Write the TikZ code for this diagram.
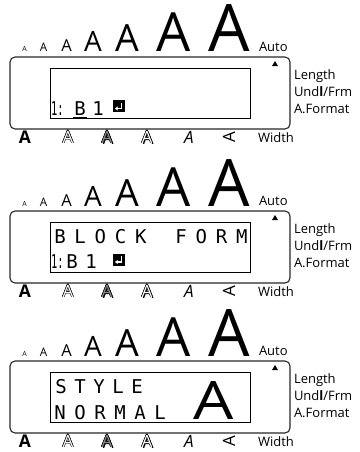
\documentclass[tikz,border=0pt]{standalone}
\usepackage{fontspec}
\setmainfont{Open Sans}
\newfontfamily\lcdfont{DejaVu Sans Mono}
\usepackage{contour}
\usetikzlibrary{arrows.meta,calc}
\contourlength{0.45pt}
\contournumber{8}

\begin{document}
\begin{tikzpicture}[x=1pt,y=-1pt, every node/.style={inner sep=0pt,outer sep=0pt}, sizeA/.style={anchor=base,font=\fontsize{#1}{#1}\selectfont}, lbl/.style={anchor=base west,font=\fontsize{13}{13}\selectfont}, sym/.style={anchor=base,font=\fontsize{17}{17}\selectfont}, lcd/.style={anchor=base,font=\lcdfont\fontsize{19}{19}\selectfont}, frame/.style={draw=black!85,line width=1.1pt,rounded corners=5pt}, screen/.style={draw=black,line width=0.8pt}, retkey/.style={fill=black,minimum size=12pt}, retarr/.style={draw=white,line width=1.3pt,-{Triangle[length=2.6pt,width=4pt]}}]
\useasboundingbox (0,0) rectangle (359,452);
\foreach \k/\dy in {1/0,2/154,3/304}{
  \foreach \i/\x/\s in {1/24.5/7,2/43.5/11.7,3/66.5/16.5,4/93/28,5/127/37.5,6/174/54,7/229/65.5}
    \node[sizeA=\s] (a\k-\i) at ({\x},{\dy+52}) {A};
  \node[lbl] (auto\k) at (259,{\dy+51.5}) {Auto};
  \draw[frame] (10,{\dy+57}) rectangle (290,{\dy+129});
  \fill (272,{\dy+66}) -- (278,{\dy+66}) -- (275,{\dy+61}) -- cycle;
  \draw[screen] (50,{\dy+68}) rectangle (250,{\dy+118});
  \node[lbl] (len\k) at (294,{\dy+79}) {Length};
  \node[lbl] (und\k) at (294,{\dy+96}) {Und{\bfseries l}/Frm};
  \node[lbl] (fmt\k) at (294,{\dy+113}) {A.Format};
  \node[sym,font=\fontsize{17.5}{17.5}\selectfont\bfseries] (b\k-1) at (25,{\dy+143}) {A};
  \node[sym] (b\k-2) at (68,{\dy+143}) {\contour{black}{\textcolor{white}{A}}};
  \node[sym] (b\k-3s) at (108.2,{\dy+144.2}) {A};
  \node[sym] (b\k-3) at (107,{\dy+143}) {\contour{black}{\textcolor{black!45}{A}}};
  \node[sym] (b\k-4s) at (148.3,{\dy+144.3}) {A};
  \node[sym] (b\k-4) at (147,{\dy+143}) {\contour{black}{\textcolor{white}{A}}};
  \node[sym,font=\fontsize{17}{17}\selectfont\itshape] (b\k-5) at (189,{\dy+143}) {A};
  \node[sym,anchor=center,rotate=90] (b\k-6) at (229,{\dy+137.5}) {A};
  \node[lbl] (wid\k) at (258,{\dy+142}) {Width};
}
% panel 1
\node[lcd,anchor=base west] (p1-no) at (51,115) {\scalebox{0.55}[1]{1:}};
\node[lcd] (p1-b) at (80,115) {B};
\draw[line width=0.8pt] ($(p1-b.base west)+(-1,2)$) -- ($(p1-b.base east)+(1,2)$);
\node[lcd] (p1-one) at (98,115) {1};
\node[retkey] (p1-ret) at (119,106) {};
\draw[retarr] ($(p1-ret.center)+(2.5,-3.5)$) -- ++(0,6) -- ++(-6.5,0);
% panel 2
\foreach \c/\j in {B/0,L/1,O/2,C/3,K/4,F/6,O/7,R/8,M/9}
  \node[lcd] (blk\j) at ({60+20.2*\j},243) {\c};
\node[lcd,anchor=base west] (p2-no) at (51,268) {\scalebox{0.55}[1]{1:}};
\node[lcd] (p2-b) at (72,268) {B};
\node[lcd] (p2-one) at (91,268) {1};
\node[retkey] (p2-ret) at (119,259.5) {};
\draw[retarr] ($(p2-ret.center)+(2.5,-3.5)$) -- ++(0,6) -- ++(-6.5,0);
% panel 3
\foreach \c/\j in {S/0,T/1,Y/2,L/3,E/4}
  \node[lcd] (sty\j) at ({61+19*\j},393) {\c};
\foreach \c/\j in {N/0,O/1,R/2,M/3,A/4,L/5}
  \node[lcd] (nrm\j) at ({60+20*\j},419) {\c};
\node[sizeA=53] (p3-big) at (214,419) {\scalebox{1.2}[1]{A}};
\end{tikzpicture}
\end{document}
